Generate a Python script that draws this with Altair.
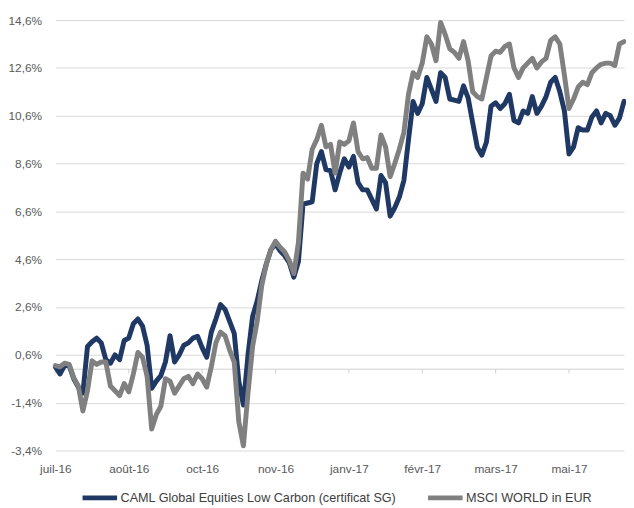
import json
import altair as alt
import pandas as pd

series_names = ["CAML Global Equities Low Carbon (certificat SG)", "MSCI WORLD in EUR"]
series_colors = ["#1F3864", "#808080"]
tick_labels = ["juil-16", "août-16", "oct-16", "nov-16", "janv-17", "févr-17", "mars-17", "mai-17"]
tick_step = 16
y_ticks = [-3.4, -1.4, 0.6, 2.6, 4.6, 6.6, 8.6, 10.6, 12.6, 14.6]

caml = [
    0.1, -0.2, 0.15, 0.15, -0.4, -0.75, -1.0, 0.95, 1.15, 1.3,
    1.1, 0.4, 0.25, 0.6, 0.4, 1.2, 1.3, 1.9, 2.1, 1.8,
    1.0, -0.8, -0.5, -0.27, 0.3, 1.4, 0.3, 0.6, 1.0, 1.1,
    1.3, 1.38, 0.9, 0.5, 1.55, 2.1, 2.7, 2.5, 2.0, 1.5,
    -0.5, -1.5, 0.6, 2.2, 2.85, 3.7, 4.4, 5.0, 5.25, 4.95,
    4.75, 4.45, 3.85, 4.5, 6.9, 6.95, 7.0, 8.6, 9.1, 8.35,
    8.3, 7.5, 8.2, 8.8, 8.45, 8.9, 7.8, 7.5, 7.5, 7.1,
    6.7, 8.1, 7.8, 6.4, 6.75, 7.2, 7.9, 9.6, 11.2, 10.7,
    11.1, 12.2, 11.7, 11.2, 12.4, 12.2, 11.3, 11.25, 11.2, 11.85,
    11.35, 10.3, 9.28, 8.95, 9.5, 11.0, 11.14, 10.9, 11.1, 11.5,
    10.4, 10.3, 10.8, 10.7, 11.4, 10.7, 11.0, 11.4, 12.0, 12.2,
    11.6, 10.8, 9.0, 9.3, 10.1, 10.0, 10.0, 10.55, 10.8, 10.3,
    10.7, 10.6, 10.2, 10.5, 11.2,
]

msci = [
    0.15, 0.1, 0.25, 0.2, -0.35, -0.7, -1.75, -0.9, 0.35, 0.2,
    0.3, 0.3, -0.7, -0.9, -1.1, -0.6, -0.95, -0.2, 0.7, 0.5,
    -0.3, -2.5, -1.9, -1.55, -0.4, -0.5, -1.0, -0.7, -0.4, -0.3,
    -0.6, -0.2, -0.4, -0.75, 0.1, 1.1, 1.55, 1.4, 0.8, 0.3,
    -2.2, -3.2, -1.0, 0.95, 2.0, 3.5, 4.4, 5.0, 5.35, 5.1,
    4.9, 4.55, 4.0, 5.3, 8.2, 7.95, 9.2, 9.6, 10.2, 9.3,
    9.4, 8.2, 9.5, 9.4, 9.55, 10.3, 9.1, 8.8, 8.85, 8.4,
    8.4, 9.8, 9.3, 8.05, 8.6, 9.2, 9.9, 11.5, 12.4, 12.2,
    12.8, 13.9, 13.6, 12.9, 14.5, 14.0, 13.4, 13.25, 13.0, 13.7,
    12.9, 11.6, 11.4, 11.3, 12.2, 13.1, 13.3, 13.25, 13.5, 13.6,
    12.6, 12.2, 12.6, 12.8, 13.0, 12.6, 12.85, 13.0, 13.75, 13.9,
    13.6, 12.3, 10.9, 11.3, 11.8, 12.0, 11.9, 12.4, 12.6, 12.75,
    12.8, 12.8, 12.7, 13.6, 13.7,
]

rows = []
for i, (a, b) in enumerate(zip(caml, msci)):
    rows.append({"t": i, "serie": series_names[0], "perf": a})
    rows.append({"t": i, "serie": series_names[1], "perf": b})
df = pd.DataFrame(rows)

n_last = len(caml) - 1
tick_pos = [k * tick_step for k in range(len(tick_labels))]
zero_df = pd.DataFrame({"t0": [0], "t1": [n_last], "y": [0.0]})
tick_df = pd.DataFrame({"t": tick_pos, "y0": [0.0] * len(tick_pos), "y1": [-0.18] * len(tick_pos)})

FONT = "Liberation Sans"
label_expr_x = json.dumps(tick_labels) + "[round(datum.value / %d)]" % tick_step
label_expr_y = "(datum.value < 0 ? '-' : '') + replace(format(abs(datum.value), '.1f'), '.', ',') + '%'"

x_scale = alt.Scale(domain=[0, n_last], nice=False, zero=False)
y_scale = alt.Scale(domain=[y_ticks[0], y_ticks[-1]], nice=False, zero=False)

x_axis = alt.Axis(values=tick_pos, labelExpr=label_expr_x, grid=False, domain=False, ticks=False,
                  labelFlush=False, labelOverlap=False,
                  labelPadding=13, labelFontSize=12, labelFont=FONT, labelColor="#595959", title=None)
y_axis = alt.Axis(values=y_ticks, labelExpr=label_expr_y, grid=True, gridColor="#d9d9d9", gridWidth=1,
                  domain=False, ticks=False, labelPadding=14, labelFontSize=12, labelFont=FONT,
                  labelColor="#595959", title=None, labelFlush=False)

zero_line = alt.Chart(zero_df).mark_rule(color="#d0d0d0", strokeWidth=1).encode(
    x=alt.X("t0:Q", scale=x_scale, axis=x_axis), x2="t1:Q",
    y=alt.Y("y:Q", scale=y_scale, axis=y_axis))
zero_ticks = alt.Chart(tick_df).mark_rule(color="#d0d0d0", strokeWidth=1).encode(
    x=alt.X("t:Q", scale=x_scale), y=alt.Y("y0:Q", scale=y_scale), y2="y1:Q")

color = alt.Color("serie:N", scale=alt.Scale(domain=series_names, range=series_colors),
                  legend=alt.Legend(title=None, orient="none", legendX=25, legendY=464,
                                    direction="horizontal", symbolType="stroke", symbolSize=1225,
                                    symbolStrokeWidth=5, labelFontSize=12.8, labelFont=FONT,
                                    labelColor="#404040", labelOffset=1, columnPadding=21, padding=0,
                                    labelLimit=400))

def line_layer(name):
    return alt.Chart(df).transform_filter(alt.datum.serie == name).mark_line(
        strokeWidth=5, strokeJoin="round", strokeCap="round").encode(
        x=alt.X("t:Q", scale=x_scale),
        y=alt.Y("perf:Q", scale=y_scale),
        color=color)

chart = alt.layer(zero_line, zero_ticks, line_layer(series_names[0]), line_layer(series_names[1])).properties(
    width=576, height=436,
    padding={"left": 48, "top": 9, "right": 2, "bottom": 55},
    autosize=alt.AutoSizeParams(type="none"),
    background="white",
).configure_view(stroke=None)

chart.save("out.html", embed_options={"renderer": "svg", "actions": False})
